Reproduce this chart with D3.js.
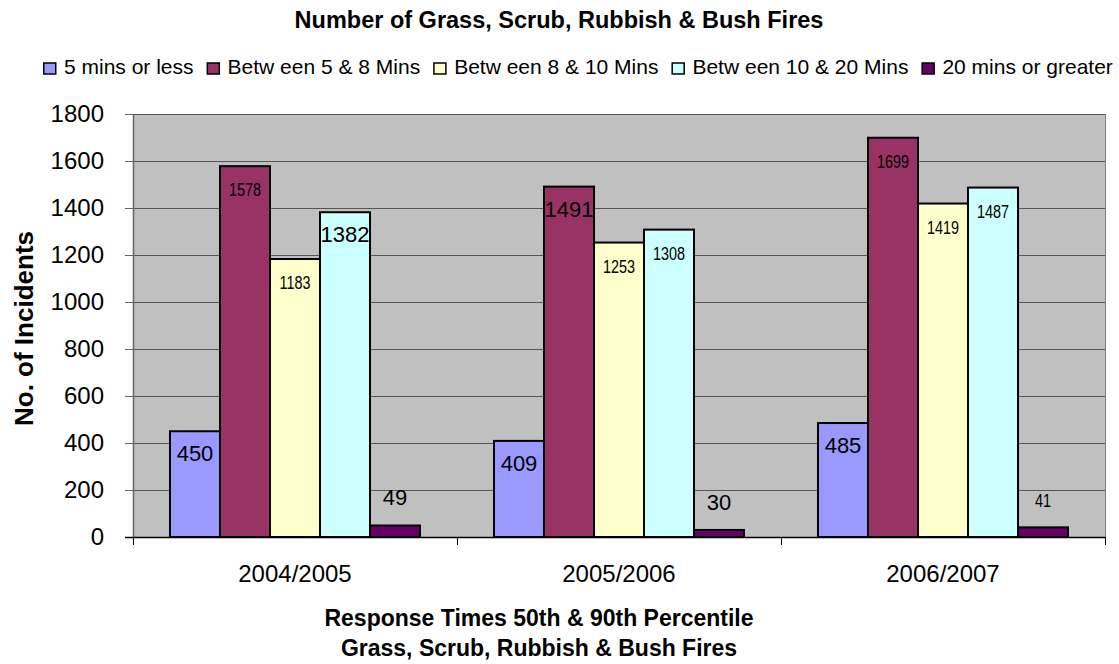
<!DOCTYPE html>
<html>
<head>
<meta charset="utf-8">
<script src="https://cdn.jsdelivr.net/npm/d3@7"></script>
<style>
  html, body { margin: 0; padding: 0; background: #ffffff; }
  svg text { font-family: "Liberation Sans", Arial, sans-serif; fill: #000; }
</style>
</head>
<body>
<svg id="chart" width="1119" height="664"></svg>
<script>
// Financial years on the x axis
const categories = ["2004/2005", "2005/2006", "2006/2007"];

// Response-time bands (legend labels)
const seriesNames = [
  "5 mins or less",
  "Betw een 5 & 8 Mins",
  "Betw een 8 & 10 Mins",
  "Betw een 10 & 20 Mins",
  "20 mins or greater"
];

// Incident counts per band, one value per year
const mins5OrLess  = [450, 409, 485];
const mins5To8     = [1578, 1491, 1699];
const mins8To10    = [1183, 1253, 1419];
const mins10To20   = [1382, 1308, 1487];
const mins20OrMore = [49, 30, 41];

const yTicks = [0, 200, 400, 600, 800, 1000, 1200, 1400, 1600, 1800];

// Styling
const seriesColors = ["#9999ff", "#993366", "#ffffcc", "#ccffff", "#660066"];
// Data-label size style per series/year: "L" regular, "S" small condensed
const labelStyle = [
  ["L", "L", "L"],
  ["S", "L", "S"],
  ["S", "S", "S"],
  ["L", "S", "S"],
  ["L", "L", "S"]
];

const seriesValues = [mins5OrLess, mins5To8, mins8To10, mins10To20, mins20OrMore];

const svg = d3.select("#chart");

const plot = { left: 133, right: 1105, top: 114, bottom: 537 };

const x0 = d3.scaleBand().domain(categories).range([plot.left, plot.right]).padding(0);
const x1 = d3.scaleBand().domain(seriesNames).range([0, x0.bandwidth()])
  .paddingInner(0).paddingOuter(0.74);
const y = d3.scaleLinear().domain([0, 1800]).range([plot.bottom, plot.top]);

// Plot background
svg.append("rect")
  .attr("x", plot.left).attr("y", plot.top)
  .attr("width", plot.right - plot.left).attr("height", plot.bottom - plot.top)
  .attr("fill", "#c0c0c0");

// Horizontal gridlines
svg.append("g")
  .selectAll("line")
  .data(yTicks.filter(d => d > 0))
  .join("line")
  .attr("x1", plot.left).attr("x2", plot.right)
  .attr("y1", d => y(d) + 0.5).attr("y2", d => y(d) + 0.5)
  .attr("stroke", "#555555").attr("stroke-width", 1);

// Right border of plot area
svg.append("line")
  .attr("x1", plot.right + 0.5).attr("x2", plot.right + 0.5)
  .attr("y1", plot.top).attr("y2", plot.bottom)
  .attr("stroke", "#808080").attr("stroke-width", 1);

// Y axis
const yAxis = svg.append("g")
  .attr("transform", `translate(${plot.left},0)`)
  .call(d3.axisLeft(y).tickValues(yTicks).tickSize(8).tickSizeOuter(0).tickPadding(21)
    .tickFormat(d3.format("d")));
yAxis.select(".domain").attr("stroke", "#666666").attr("stroke-width", 1.5);
yAxis.selectAll(".tick line").attr("stroke", "#666666").attr("stroke-width", 1);
yAxis.selectAll(".tick text")
  .attr("font-size", 24).attr("font-family", "Liberation Sans, Arial, sans-serif").attr("fill", "#000");

// Bars
const groups = svg.append("g")
  .selectAll("g")
  .data(categories)
  .join("g")
  .attr("transform", d => `translate(${x0(d)},0)`);

const barData = (c, ci) => seriesNames.map((s, si) => ({
  series: s, si, ci, value: seriesValues[si][ci], style: labelStyle[si][ci]
}));

groups.selectAll("rect")
  .data((c, ci) => barData(c, ci))
  .join("rect")
  .attr("x", d => x1(d.series))
  .attr("y", d => y(d.value))
  .attr("width", x1.bandwidth())
  .attr("height", d => y(0) - y(d.value))
  .attr("fill", d => seriesColors[d.si])
  .attr("stroke", "#000")
  .attr("stroke-width", 2);

// Data labels
const labels = groups.selectAll("text.val")
  .data((c, ci) => barData(c, ci))
  .join("text")
  .attr("class", "val")
  .attr("text-anchor", "middle")
  .attr("x", d => x1(d.series) + x1.bandwidth() / 2)
  .attr("font-size", d => d.style === "L" ? 22 : 18)
  .attr("y", d => {
    const top = y(d.value);
    const inside = (y(0) - top) > 40;
    return inside ? top + 30 : top - 20;
  })
  .text(d => d.value);

labels.filter(d => d.style === "S").each(function () {
  const len = this.getComputedTextLength();
  d3.select(this).attr("textLength", len * 0.8).attr("lengthAdjust", "spacingAndGlyphs");
});

// X axis line
svg.append("line")
  .attr("x1", plot.left - 8).attr("x2", plot.right)
  .attr("y1", plot.bottom + 0.5).attr("y2", plot.bottom + 0.5)
  .attr("stroke", "#000").attr("stroke-width", 1.5);

// Category boundary ticks
const boundaries = categories.map(c => x0(c)).concat([x0.range()[1]]);
svg.append("g")
  .selectAll("line")
  .data(boundaries)
  .join("line")
  .attr("x1", d => d + 0.5).attr("x2", d => d + 0.5)
  .attr("y1", plot.bottom).attr("y2", plot.bottom + 8)
  .attr("stroke", "#000").attr("stroke-width", 1);

// Category labels
svg.append("g")
  .selectAll("text")
  .data(categories)
  .join("text")
  .attr("x", d => x0(d) + x0.bandwidth() / 2)
  .attr("y", 582)
  .attr("text-anchor", "middle")
  .attr("font-size", 24)
  .text(d => d);

// Chart title
svg.append("text")
  .attr("x", 559).attr("y", 28)
  .attr("text-anchor", "middle")
  .attr("font-size", 23.5).attr("font-weight", "bold")
  .text("Number of Grass, Scrub, Rubbish & Bush Fires");

// Y axis title
svg.append("text")
  .attr("transform", `translate(33,${(plot.top + plot.bottom) / 2 + 3}) rotate(-90)`)
  .attr("text-anchor", "middle")
  .attr("font-size", 26).attr("font-weight", "bold")
  .text("No. of Incidents");

// X axis title (two lines)
const xTitle = svg.append("text")
  .attr("text-anchor", "middle")
  .attr("font-size", 23).attr("font-weight", "bold");
xTitle.append("tspan").attr("x", 539).attr("y", 626).text("Response Times 50th & 90th Percentile");
xTitle.append("tspan").attr("x", 539).attr("y", 656).text("Grass, Scrub, Rubbish & Bush Fires");

// Legend
const legend = svg.append("g").attr("transform", "translate(43,0)");
let cursor = 0;
seriesNames.forEach((name, i) => {
  const item = legend.append("g").attr("transform", `translate(${cursor},0)`);
  item.append("rect")
    .attr("x", 0.75).attr("y", 63)
    .attr("width", 12).attr("height", 11)
    .attr("fill", seriesColors[i]).attr("stroke", "#000").attr("stroke-width", 1.5);
  const t = item.append("text")
    .attr("x", 21).attr("y", 74)
    .attr("font-size", 21)
    .text(name);
  cursor += 21 + t.node().getComputedTextLength() + 13;
});
</script>
</body>
</html>
